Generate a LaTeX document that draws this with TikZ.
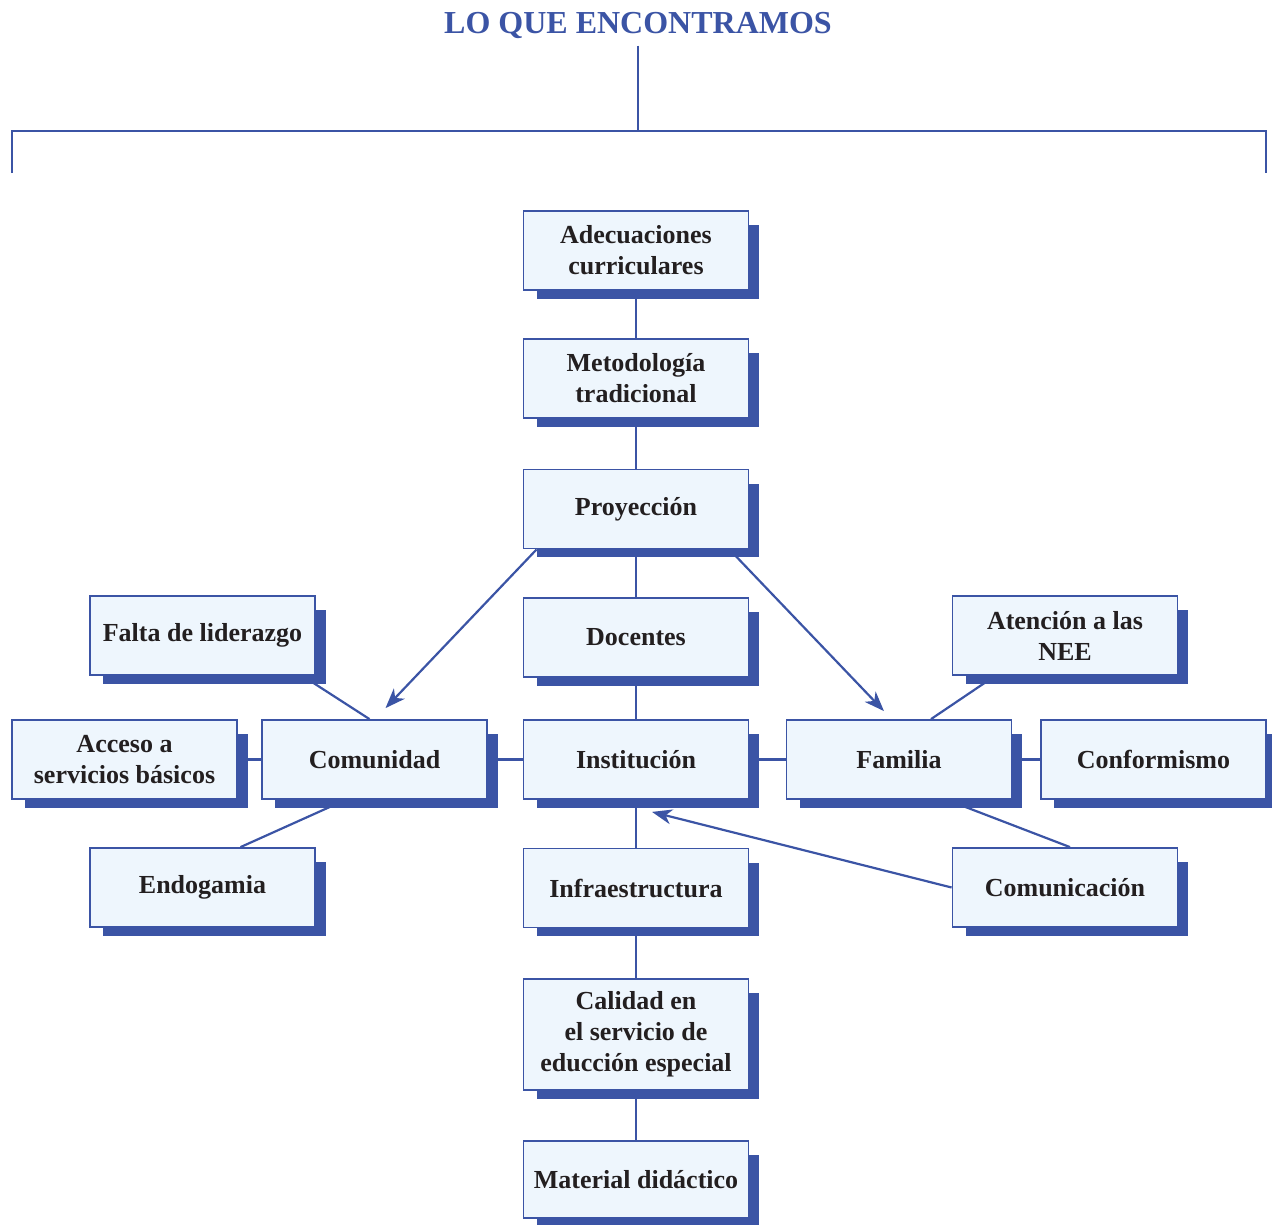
\documentclass[tikz,border=0pt]{standalone}
\usepackage{fontspec}
\setmainfont{Liberation Serif}
\usetikzlibrary{arrows.meta,backgrounds}

\definecolor{azul}{HTML}{3B54A5}
\definecolor{celeste}{HTML}{EEF6FD}
\definecolor{texto}{HTML}{231F20}

\tikzset{
  caja/.style={draw=azul, line width=1.8pt, fill=celeste, text=texto,
    minimum width=225pt, minimum height=79pt, align=center, inner sep=2pt,
    font=\fontsize{26}{31}\selectfont\bfseries},
  linea/.style={draw=azul, line width=2.2pt},
  flecha/.style={linea, -{Stealth[length=20pt,width=15pt,inset=6pt]}}
}

\begin{document}
\begin{tikzpicture}[x=1pt, y=-1pt]
        \useasboundingbox (0,0) rectangle (1272,1224);

        % titulo y llave
        \node[font=\fontsize{32}{36}\selectfont\bfseries, text=azul, anchor=base] (titulo) at (638,33) {LO QUE ENCONTRAMOS};
        \coordinate (llave) at (639,131);
        \coordinate (izq) at (12,173);
        \coordinate (der) at (1266,173);
        \draw[linea] ([yshift=-4pt]titulo.south) -- (titulo.south |- llave);
        \draw[linea] (izq) |- (llave) -| (der);

        % columna central
        \node[caja] (adec) at (636,250.5) {Adecuaciones\\curriculares};
        \node[caja] (metod) at (636,378.5) {Metodología\\tradicional};
        \node[caja] (proy) at (636,509) {Proyección};
        \node[caja] (doc) at (636,637.5) {Docentes};
        \node[caja] (inst) at (636,759.5) {Institución};
        \node[caja] (infra) at (636,888) {Infraestructura};
        \node[caja, minimum height=111pt] (calidad) at (636,1034.5) {Calidad en\\el servicio de\\educción especial};
        \node[caja, minimum height=77pt] (material) at (636,1179.5) {Material didáctico};

        % lado izquierdo
        \node[caja] (falta) at (202.5,635.5) {Falta de liderazgo};
        \node[caja] (acceso) at (124.5,759.5) {Acceso a\\servicios básicos};
        \node[caja] (comunidad) at (374.5,759.5) {Comunidad};
        \node[caja] (endogamia) at (202.5,887.5) {Endogamia};

        % lado derecho
        \node[caja] (atencion) at (1065,635.5) {Atención a las\\NEE};
        \node[caja] (familia) at (899,759.5) {Familia};
        \node[caja] (conformismo) at (1153.5,759.5) {Conformismo};
        \node[caja] (comunicacion) at (1065,887.5) {Comunicación};

        % sombras
        \begin{scope}[on background layer]
            \foreach \n in {adec,metod,proy,doc,inst,infra,calidad,material,falta,acceso,comunidad,endogamia,atencion,familia,conformismo,comunicacion}
                \fill[azul] ([xshift=14pt,yshift=-15pt]\n.north west) rectangle ([xshift=10pt,yshift=-8pt]\n.south east);
        \end{scope}

        % conexiones
        \draw[linea] (adec) -- (metod);
        \draw[linea] (metod) -- (proy);
        \draw[linea] (proy) -- (doc);
        \draw[linea] (doc) -- (inst);
        \draw[linea] (inst) -- (infra);
        \draw[linea] (infra) -- (calidad);
        \draw[linea] (calidad) -- (material);

        \draw[linea] (acceso) -- (comunidad);
        \draw[linea] (comunidad) -- (inst);
        \draw[linea] (inst) -- (familia);
        \draw[linea] (familia) -- (conformismo);

        \draw[linea] ([xshift=100pt]falta.south) -- ([xshift=-5pt]comunidad.north);
        \draw[linea] ([xshift=38pt]endogamia.north) -- ([xshift=-29pt]comunidad.south);
        \draw[linea] ([xshift=-70pt]atencion.south) -- ([xshift=32pt]familia.north);
        \draw[linea] ([xshift=48pt]familia.south) -- ([xshift=5pt]comunicacion.north);

        \draw[flecha] ([xshift=14pt]proy.south west) -- ([xshift=11pt,yshift=11pt]comunidad.north);
        \draw[flecha] ([xshift=-20pt]proy.south east) -- ([xshift=-15pt,yshift=8pt]familia.north);
        \draw[flecha] (comunicacion.west) -- ([xshift=16pt,yshift=-12pt]inst.south);
    \end{tikzpicture}
\end{document}
